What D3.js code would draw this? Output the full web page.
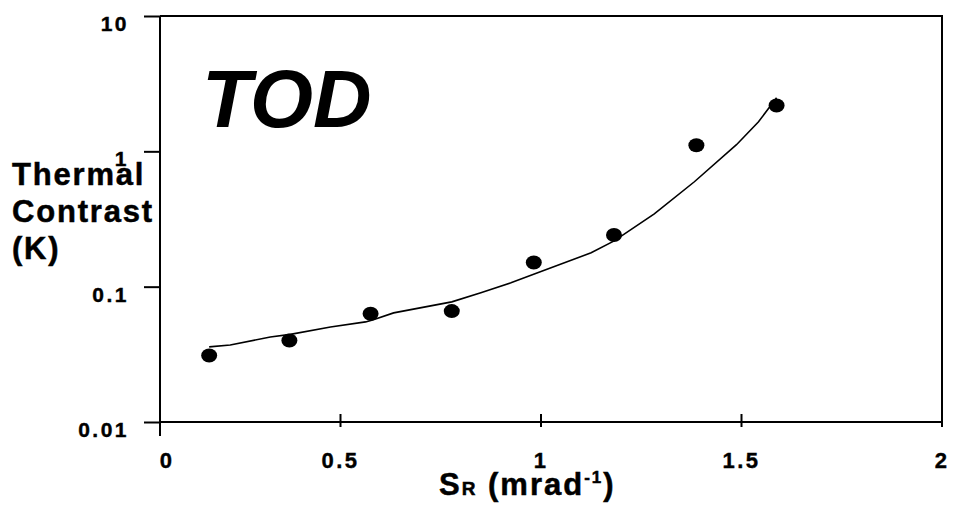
<!DOCTYPE html>
<html>
<head>
<meta charset="utf-8">
<script src="https://cdn.jsdelivr.net/npm/d3@7"></script>
<style>
  body { margin: 0; background: #fff; }
  svg { display: block; font-family: "Liberation Sans", Arial, sans-serif; }
</style>
</head>
<body>
<div id="wrapper"></div>
<script>
// measured points
const pointX = [0.1725, 0.3725, 0.575, 0.7775, 0.982, 1.182, 1.3875, 1.5875]
const pointY = [0.031, 0.040, 0.063, 0.066, 0.151, 0.241, 1.11, 2.18]

// fitted curve
const fitX = [0.1725, 0.225, 0.325, 0.375, 0.475, 0.5625, 0.58, 0.6325, 0.7775, 0.85, 0.925, 1.025, 1.125, 1.1825, 1.2825, 1.3825, 1.4875, 1.5425, 1.5875]
const fitY = [0.0359, 0.0371, 0.0425, 0.0444, 0.0504, 0.0549, 0.0568, 0.064, 0.0772, 0.090, 0.1067, 0.1377, 0.178, 0.218, 0.345, 0.596, 1.119, 1.655, 2.49]

const xTicks = [0.5, 1, 1.5, 2]
const yTicks = [0.01, 0.1, 1, 10]
const yTickLabels = ['0.01', '0.1', '1', '10']

function drawChart() {

    let dimensions = {
        width: 954,
        height: 520,
        plotLeft: 160,
        plotRight: 942,
        plotTop: 16,
        plotBottom: 422,
    }

    const svg = d3.select('#wrapper')
        .append('svg')
        .attr('width', dimensions.width)
        .attr('height', dimensions.height)

    const xScale = d3.scaleLinear()
        .domain([0, 2])
        .range([140, dimensions.plotRight])

    const yScale = d3.scaleLog()
        .domain([0.01, 10])
        .range([dimensions.plotBottom, dimensions.plotTop])

    // frame (top + right)
    svg.append('path')
        .attr('d', `M${dimensions.plotLeft},${dimensions.plotTop}H${dimensions.plotRight}V${dimensions.plotBottom}`)
        .attr('fill', 'none')
        .attr('stroke', '#000')
        .attr('stroke-width', 2)

    // y axis
    const yAxis = svg.append('g')
        .attr('transform', `translate(${dimensions.plotLeft},0)`)
        .call(d3.axisLeft(yScale).tickValues(yTicks).tickSize(16).tickFormat(''))
    yAxis.select('.domain').remove()
    yAxis.selectAll('line').attr('stroke-width', 2)

    svg.append('line')
        .attr('x1', dimensions.plotLeft).attr('x2', dimensions.plotLeft)
        .attr('y1', dimensions.plotTop).attr('y2', dimensions.plotBottom + 14)
        .attr('stroke', '#000').attr('stroke-width', 2)

    svg.selectAll('.y-label')
        .data(yTicks)
        .enter().append('text')
        .attr('class', 'y-label')
        .attr('x', 129)
        .attr('y', d => yScale(d) + 15)
        .attr('text-anchor', 'end')
        .attr('font-size', 21)
        .attr('font-weight', 'bold')
        .attr('letter-spacing', 2.5)
        .attr('stroke', '#000')
        .attr('stroke-width', 0.4)
        .text((d, i) => yTickLabels[i])

    // x axis
    svg.append('line')
        .attr('x1', dimensions.plotLeft).attr('x2', dimensions.plotRight)
        .attr('y1', dimensions.plotBottom).attr('y2', dimensions.plotBottom)
        .attr('stroke', '#000').attr('stroke-width', 2)

    svg.selectAll('.x-tick')
        .data(xTicks)
        .enter().append('line')
        .attr('class', 'x-tick')
        .attr('x1', d => xScale(d)).attr('x2', d => xScale(d))
        .attr('y1', d => d == 2 ? dimensions.plotBottom : dimensions.plotBottom - 8)
        .attr('y2', dimensions.plotBottom + 5)
        .attr('stroke', '#000').attr('stroke-width', 2)

    svg.selectAll('.x-label')
        .data([0].concat(xTicks))
        .enter().append('text')
        .attr('class', 'x-label')
        .attr('x', d => d == 0 ? dimensions.plotLeft + 7 : xScale(d))
        .attr('y', 468)
        .attr('text-anchor', 'middle')
        .attr('font-size', 22)
        .attr('font-weight', 'bold')
        .attr('letter-spacing', 2.5)
        .attr('stroke', '#000')
        .attr('stroke-width', 0.4)
        .text(d => d)

    // fitted line
    const line = d3.line()
        .x(d => xScale(d[0]))
        .y(d => yScale(d[1]))

    svg.append('path')
        .datum(fitX.map((x, i) => [x, fitY[i]]))
        .attr('d', line)
        .attr('fill', 'none')
        .attr('stroke', '#000')
        .attr('stroke-width', 1.6)

    // points
    svg.selectAll('.point')
        .data(pointX.map((x, i) => [x, pointY[i]]))
        .enter().append('ellipse')
        .attr('class', 'point')
        .attr('cx', d => xScale(d[0]))
        .attr('cy', d => yScale(d[1]))
        .attr('rx', 8)
        .attr('ry', 7)
        .attr('fill', '#000')

    // TOD
    svg.append('text')
        .attr('x', 202)
        .attr('y', 127)
        .attr('font-size', 81)
        .attr('font-weight', 'bold')
        .attr('font-style', 'italic')
        .text('TOD')

    // y title
    const yTitle = svg.append('text')
        .attr('x', 12)
        .attr('y', 185)
        .attr('font-size', 31)
        .attr('font-weight', 'bold')
        .attr('letter-spacing', 1.8)
        .attr('stroke', '#000')
        .attr('stroke-width', 0.5)
    ;['Thermal', 'Contrast', '(K)'].forEach((t, i) => {
        yTitle.append('tspan')
            .attr('x', 12)
            .attr('dy', i == 0 ? 0 : 37)
            .text(t)
    })

    // x title
    const xTitle = svg.append('text')
        .attr('x', 439)
        .attr('y', 495)
        .attr('font-size', 31)
        .attr('font-weight', 'bold')
        .attr('letter-spacing', 2)
        .attr('stroke', '#000')
        .attr('stroke-width', 0.5)
    xTitle.append('tspan').text('S')
    xTitle.append('tspan').attr('font-size', 19).text('R')
    xTitle.append('tspan').text(' (mrad')
    xTitle.append('tspan').attr('font-size', 17).attr('dy', -12).text('-1')
    xTitle.append('tspan').attr('dy', 12).text(')')
}

drawChart()
</script>
</body>
</html>
